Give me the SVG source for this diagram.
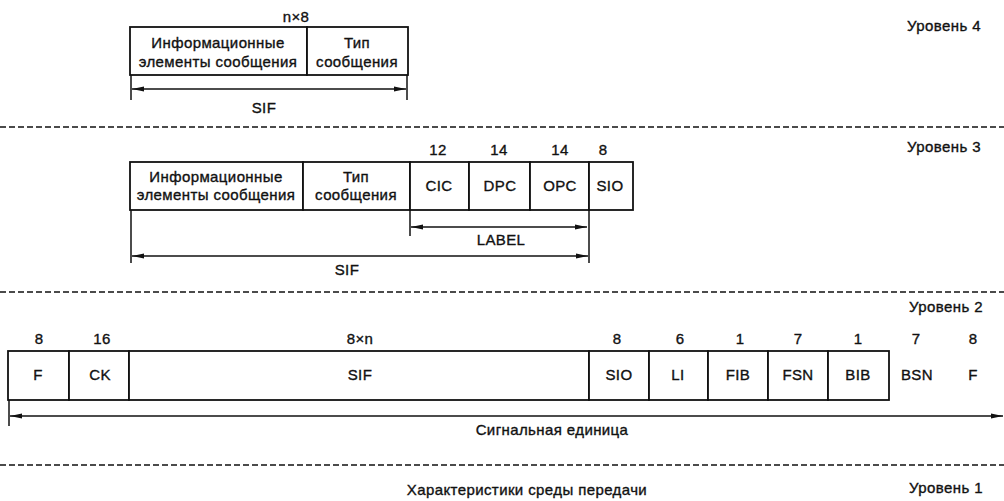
<svg xmlns="http://www.w3.org/2000/svg" width="1004" height="501" viewBox="0 0 1004 501">
<style>
text{font-family:"Liberation Sans",Arial,sans-serif;font-size:15px;fill:#111;stroke:#111;stroke-width:0.35px;letter-spacing:0.4px}
.c{text-anchor:middle}
.e{text-anchor:end}
.box{fill:#fff;stroke:#111;stroke-width:1.8}
.ln{stroke:#111;stroke-width:1.5;fill:none}
.dash{stroke:#111;stroke-width:1.5;stroke-dasharray:6 3;fill:none}
</style>
<defs>
<marker id="ah" viewBox="0 0 12 6" refX="12" refY="3" markerWidth="12" markerHeight="6" markerUnits="userSpaceOnUse" orient="auto-start-reverse">
<path d="M0,0.6 L12,3 L0,5.4 Z" fill="#111"/>
</marker>
</defs>
<rect width="1004" height="501" fill="#fff"/>

<g id="separators">
<line class="dash" x1="0" y1="127" x2="1004" y2="127"/>
<line class="dash" x1="0" y1="292" x2="1004" y2="292"/>
<line class="dash" x1="0" y1="465" x2="1004" y2="465"/>
</g>

<g id="level-labels">
<text class="e" x="981" y="31">Уровень 4</text>
<text class="e" x="981" y="152">Уровень 3</text>
<text class="e" x="983" y="312">Уровень 2</text>
<text class="e" x="983" y="493">Уровень 1</text>
<text class="c" x="527" y="495">Характеристики среды передачи</text>
</g>

<!-- Level 4 -->
<g id="l4-info">
<rect class="box" x="130" y="27" width="177" height="48"/>
<text class="c" x="218" y="48">Информационные</text>
<text class="c" x="218" y="67">элементы сообщения</text>
</g>
<g id="l4-type">
<rect class="box" x="307" y="27" width="101" height="48"/>
<text class="c" x="357" y="48">Тип</text>
<text class="c" x="357" y="67">сообщения</text>
<text class="c" x="296" y="22">n×8</text>
</g>

<!-- Level 3 -->
<g id="l3-info">
<rect class="box" x="130" y="162" width="173" height="48"/>
<text class="c" x="216" y="182">Информационные</text>
<text class="c" x="216" y="200">элементы сообщения</text>
</g>
<g id="l3-type">
<rect class="box" x="303" y="162" width="107" height="48"/>
<text class="c" x="356" y="182">Тип</text>
<text class="c" x="356" y="200">сообщения</text>
</g>
<g id="l3-cic">
<rect class="box" x="410" y="162" width="59" height="48"/>
<text class="c" x="439" y="191">CIC</text>
<text class="c" x="438" y="155">12</text>
</g>
<g id="l3-dpc">
<rect class="box" x="469" y="162" width="61" height="48"/>
<text class="c" x="500" y="191">DPC</text>
<text class="c" x="499" y="155">14</text>
</g>
<g id="l3-opc">
<rect class="box" x="530" y="162" width="59" height="48"/>
<text class="c" x="560" y="191">OPC</text>
<text class="c" x="560" y="155">14</text>
</g>
<g id="l3-sio">
<rect class="box" x="589" y="162" width="44" height="48"/>
<text class="c" x="610" y="191">SIO</text>
<text class="c" x="603" y="155">8</text>
</g>

<!-- Level 2 -->
<g id="l2-f1">
<rect class="box" x="8" y="351" width="61" height="49"/>
<text class="c" x="38" y="380">F</text>
<text class="c" x="39" y="344">8</text>
</g>
<g id="l2-ck">
<rect class="box" x="69" y="351" width="60" height="49"/>
<text class="c" x="100" y="380">CK</text>
<text class="c" x="102" y="344">16</text>
</g>
<g id="l2-sif">
<rect class="box" x="129" y="351" width="460" height="49"/>
<text class="c" x="360" y="380">SIF</text>
<text class="c" x="360" y="344">8×n</text>
</g>
<g id="l2-sio">
<rect class="box" x="589" y="351" width="60" height="49"/>
<text class="c" x="619" y="380">SIO</text>
<text class="c" x="617" y="344">8</text>
</g>
<g id="l2-li">
<rect class="box" x="649" y="351" width="59" height="49"/>
<text class="c" x="678" y="380">LI</text>
<text class="c" x="680" y="344">6</text>
</g>
<g id="l2-fib">
<rect class="box" x="708" y="351" width="60" height="49"/>
<text class="c" x="738" y="380">FIB</text>
<text class="c" x="740" y="344">1</text>
</g>
<g id="l2-fsn">
<rect class="box" x="768" y="351" width="60" height="49"/>
<text class="c" x="798" y="380">FSN</text>
<text class="c" x="798" y="344">7</text>
</g>
<g id="l2-bib">
<rect class="box" x="828" y="351" width="61" height="49"/>
<text class="c" x="858" y="380">BIB</text>
<text class="c" x="858" y="344">1</text>
</g>
<g id="l2-bsn">
<text class="c" x="917" y="380">BSN</text>
<text class="c" x="916" y="344">7</text>
</g>
<g id="l2-f2">
<text class="c" x="973" y="380">F</text>
<text class="c" x="973" y="344">8</text>
</g>

<g id="connectors">
<line class="ln" x1="131" y1="75" x2="131" y2="100"/>
<line class="ln" x1="407" y1="75" x2="407" y2="100"/>
<line class="ln" x1="132" y1="89" x2="406" y2="89" marker-start="url(#ah)" marker-end="url(#ah)"/>
<text class="c" x="264" y="113">SIF</text>
<line class="ln" x1="410" y1="210" x2="410" y2="236"/>
<line class="ln" x1="589" y1="210" x2="589" y2="263"/>
<line class="ln" x1="411" y1="227" x2="587" y2="227" marker-start="url(#ah)" marker-end="url(#ah)"/>
<text class="c" x="501" y="245">LABEL</text>
<line class="ln" x1="131" y1="210" x2="131" y2="263"/>
<line class="ln" x1="132" y1="256" x2="588" y2="256" marker-start="url(#ah)" marker-end="url(#ah)"/>
<text class="c" x="347" y="275">SIF</text>
<line class="ln" x1="9" y1="400" x2="9" y2="426"/>
<line class="ln" x1="10" y1="416" x2="1003" y2="416" marker-start="url(#ah)" marker-end="url(#ah)"/>
<text class="c" x="552" y="435">Сигнальная единица</text>
</g>
</svg>
